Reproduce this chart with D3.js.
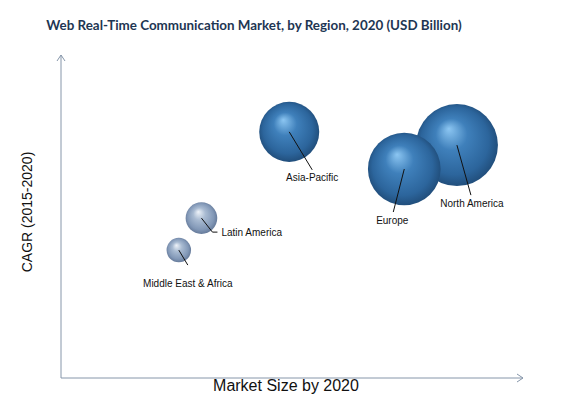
<!DOCTYPE html>
<html lang="en">
  <head>
    <meta charset="UTF-8" />
    <title>Web Real-Time Communication Market</title>
    <script src="https://d3js.org/d3.v7.min.js"></script>
    <style>
      body {
        margin: 0;
        background: #fff;
      }
      svg {
        display: block;
      }
      .title {
        font-family: Lato, "Open Sans", sans-serif;
        font-weight: bold;
        font-size: 13.4px;
        fill: #1e3653;
      }
      .axis-title {
        font-family: "Liberation Sans", Arial, sans-serif;
        fill: #111;
      }
      .label {
        font-family: "Liberation Sans", Arial, sans-serif;
        font-size: 10px;
        fill: #111;
      }
      .leader {
        stroke: #111;
        stroke-width: 1;
        fill: none;
      }
      .axis-line {
        stroke: #8696aa;
        stroke-width: 1;
        fill: none;
      }
    </style>
  </head>
  <body>
    <svg id="chart" width="587" height="403"></svg>

    <script>
      // data (relative units)
      const regions = ["North America", "Europe", "Asia-Pacific", "Latin America", "Middle East & Africa"];
      const marketSize = [85.7, 74.3, 49.4, 30.4, 25.5];
      const cagr = [72.1, 64.7, 76.2, 49.5, 39.6];
      const bubbleSize = [16.8, 13.2, 9.0, 2.5, 1.5];
      const shade = ["dark", "dark", "dark", "light", "light"];

      const width = 587;
      const height = 403;
      const plot = { left: 61, right: 523, top: 55, bottom: 378 };

      // label placement, offsets from the bubble centre
      const labelLayout = {
        "North America": { line: [[14, 50]], text: [15, 62], anchor: "middle" },
        "Europe": { line: [[-11, 43]], text: [-12, 55], anchor: "middle" },
        "Asia-Pacific": { line: [[23, 38]], text: [23, 49], anchor: "middle" },
        "Latin America": { line: [[11, 14], [16, 14]], text: [20, 18], anchor: "start" },
        "Middle East & Africa": { line: [[9, 15]], text: [9, 37], anchor: "middle" }
      };

      const x = d3.scaleLinear().domain([0, 100]).range([plot.left, plot.right]);
      const y = d3.scaleLinear().domain([0, 100]).range([plot.bottom, plot.top]);
      const r = d3.scaleSqrt().domain([0, d3.max(bubbleSize)]).range([0, 41]);

      const data = regions.map((name, i) => ({
        name,
        x: marketSize[i],
        y: cagr[i],
        size: bubbleSize[i],
        shade: shade[i]
      }));

      const svg = d3.select("#chart");
      const defs = svg.append("defs");

      // sphere gradients
      const palettes = {
        dark: ["#8cc6f2", "#3f80bb", "#2c659c", "#1d4670"],
        light: ["#eef3f9", "#a9bbd2", "#8298b7", "#5c7090"]
      };
      Object.entries(palettes).forEach(([key, c]) => {
        const g = defs
          .append("radialGradient")
          .attr("id", "sphere-" + key)
          .attr("cx", "0.5")
          .attr("cy", "0.5")
          .attr("fx", "0.4")
          .attr("fy", "0.3")
          .attr("r", "0.55");
        g.append("stop").attr("offset", "0%").attr("stop-color", c[0]);
        g.append("stop").attr("offset", "35%").attr("stop-color", c[1]);
        g.append("stop").attr("offset", "75%").attr("stop-color", c[2]);
        g.append("stop").attr("offset", "100%").attr("stop-color", c[3]);
      });

      // title
      svg
        .append("text")
        .attr("class", "title")
        .attr("x", 254)
        .attr("y", 30)
        .attr("text-anchor", "middle")
        .text("Web Real-Time Communication Market, by Region, 2020 (USD Billion)");

      // axes with open arrowheads
      svg
        .append("path")
        .attr("class", "axis-line")
        .attr("d", `M${plot.left},${plot.bottom} V${plot.top}`);
      svg
        .append("path")
        .attr("class", "axis-line")
        .attr("d", `M${plot.left - 4},${plot.top + 6} L${plot.left},${plot.top} L${plot.left + 4},${plot.top + 6}`);
      svg
        .append("path")
        .attr("class", "axis-line")
        .attr("d", `M${plot.left},${plot.bottom} H${plot.right}`);
      svg
        .append("path")
        .attr("class", "axis-line")
        .attr("d", `M${plot.right - 6},${plot.bottom - 4} L${plot.right},${plot.bottom} L${plot.right - 6},${plot.bottom + 4}`);

      svg
        .append("text")
        .attr("class", "axis-title")
        .attr("transform", "translate(32,212) rotate(-90)")
        .attr("text-anchor", "middle")
        .attr("font-size", 14)
        .text("CAGR (2015-2020)");

      svg
        .append("text")
        .attr("class", "axis-title")
        .attr("x", 286)
        .attr("y", 391)
        .attr("text-anchor", "middle")
        .attr("font-size", 16)
        .text("Market Size by 2020");

      // bubbles: draw larger first so Europe sits over North America
      const order = data.slice().sort((a, b) => b.size - a.size);
      svg
        .selectAll(".bubble")
        .data(order)
        .join("circle")
        .attr("class", "bubble")
        .attr("cx", (d) => x(d.x))
        .attr("cy", (d) => y(d.y))
        .attr("r", (d) => r(d.size))
        .attr("fill", (d) => `url(#sphere-${d.shade})`);

      // leader lines and labels
      data.forEach((d) => {
        const cx = x(d.x);
        const cy = y(d.y);
        const lay = labelLayout[d.name];
        const pts = [[cx, cy]].concat(lay.line.map((p) => [cx + p[0], cy + p[1]]));
        svg.append("path").attr("class", "leader").attr("d", d3.line()(pts));
        svg
          .append("text")
          .attr("class", "label")
          .attr("x", cx + lay.text[0])
          .attr("y", cy + lay.text[1])
          .attr("text-anchor", lay.anchor)
          .text(d.name);
      });
    </script>
  </body>
</html>
